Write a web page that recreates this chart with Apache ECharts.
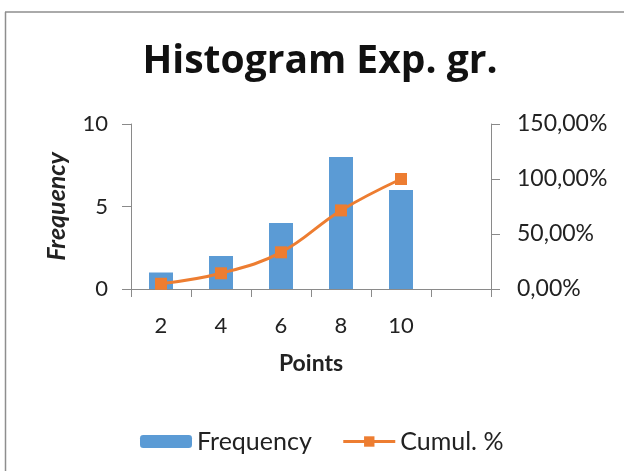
<!DOCTYPE html>
<html>
<head>
<meta charset="utf-8">
<script src="https://cdn.jsdelivr.net/npm/echarts@6/dist/echarts.min.js"></script>
<style>html,body{margin:0;padding:0;background:#fff}#c{width:624px;height:471px}</style>
</head>
<body>
<div id="c"></div>
<script>
var categories = ['2', '4', '6', '8', '10', ''];
var frequency = [1, 2, 4, 8, 6, null];
var cumulPercent = [4.76, 14.29, 33.33, 71.43, 100, null];
var leftTicks = {min: 0, max: 10, interval: 5};
var rightTicks = {min: 0, max: 150, interval: 50};

var FONT = 'Lato';
var TXT = '#222';
var AX = '#8a8a8a';
var chart = echarts.init(document.getElementById('c'), null, {renderer: 'canvas'});
chart.setOption({
  animation: false,
  backgroundColor: '#fff',
  textStyle: {fontFamily: FONT},
  graphic: [
    {type: 'line', shape: {x1: 5, y1: 12, x2: 624, y2: 12}, style: {stroke: '#8e8e8e', lineWidth: 1.5}},
    {type: 'line', shape: {x1: 5.5, y1: 12, x2: 5.5, y2: 471}, style: {stroke: '#8e8e8e', lineWidth: 1.5}}
  ],
  title: {
    text: 'Histogram Exp. gr.',
    left: 315, top: 37, textAlign: 'center',
    textStyle: {fontFamily: 'Open Sans', fontWeight: 'bold', fontSize: 39, color: '#111'}
  },
  legend: {
    left: 135, top: 424,
    itemWidth: 52, itemHeight: 13, itemGap: 30,
    lineStyle: {width: 3},
    textStyle: {fontFamily: FONT, fontSize: 25, color: TXT},
    data: ['Frequency', 'Cumul. %']
  },
  grid: {left: 131, right: 133, top: 124, bottom: 182, containLabel: false},
  xAxis: {
    type: 'category', data: categories,
    name: 'Points', nameLocation: 'middle', nameGap: 63,
    nameTextStyle: {fontFamily: FONT, fontWeight: 'bold', fontSize: 23, color: TXT},
    axisLine: {lineStyle: {color: AX, width: 1}},
    axisTick: {show: true, length: 8, lineStyle: {color: AX}},
    axisLabel: {fontFamily: FONT, fontSize: 22, color: TXT, margin: 26}
  },
  yAxis: [
    {
      type: 'value', min: leftTicks.min, max: leftTicks.max, interval: leftTicks.interval,
      name: 'Frequency', nameLocation: 'middle', nameGap: 62, nameRotate: 90,
      nameTextStyle: {fontFamily: FONT, fontWeight: 'bold', fontStyle: 'italic', fontSize: 25, color: TXT},
      axisLine: {show: true, lineStyle: {color: AX, width: 1}},
      axisTick: {show: true, length: 9, lineStyle: {color: AX}},
      splitLine: {show: false},
      axisLabel: {fontFamily: FONT, fontSize: 22, color: TXT, margin: 23}
    },
    {
      type: 'value', min: rightTicks.min, max: rightTicks.max, interval: rightTicks.interval,
      position: 'right',
      axisLine: {show: true, lineStyle: {color: AX, width: 1}},
      axisTick: {show: true, length: 9, lineStyle: {color: AX}},
      splitLine: {show: false},
      axisLabel: {
        fontFamily: FONT, fontSize: 23, color: TXT, margin: 26,
        formatter: function (v) { return v.toFixed(2).replace('.', ',') + '%'; }
      }
    }
  ],
  series: [
    {
      name: 'Frequency', type: 'bar', data: frequency, barWidth: 24,
      itemStyle: {color: '#5B9BD5'}
    },
    {
      name: 'Cumul. %', type: 'line', yAxisIndex: 1, data: cumulPercent,
      smooth: 0.4, symbol: 'rect', symbolSize: 12, showAllSymbol: true,
      lineStyle: {color: '#ED7D31', width: 3},
      itemStyle: {color: '#ED7D31'}
    }
  ]
});
</script>
</body>
</html>
